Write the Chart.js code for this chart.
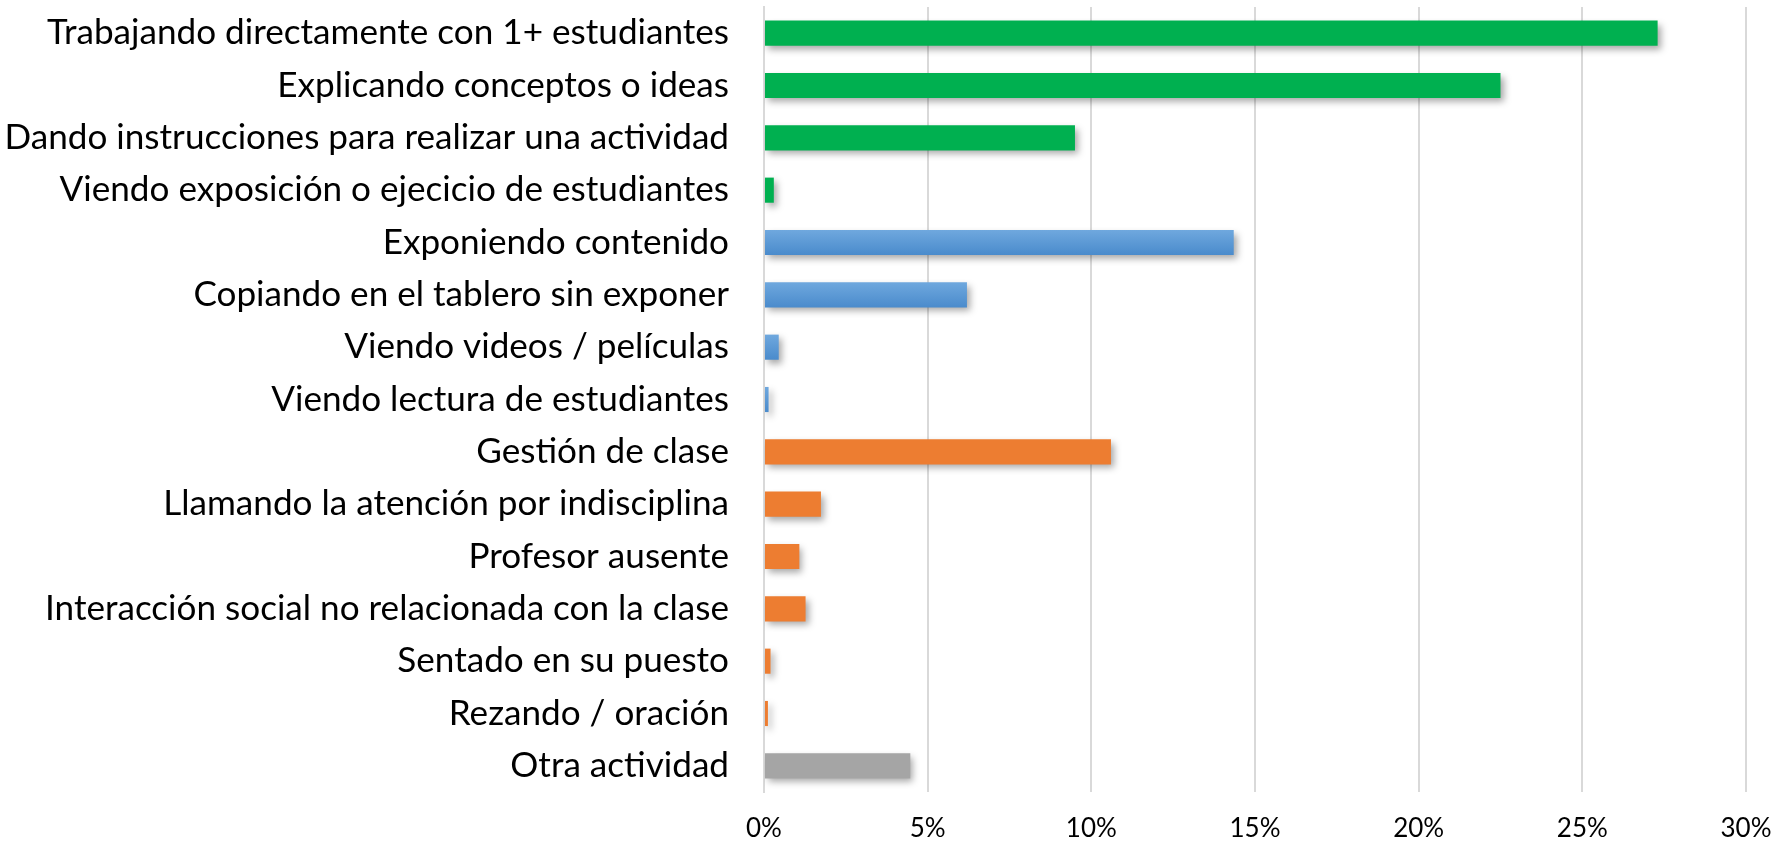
<!DOCTYPE html>
<html>
<head>
<meta charset="utf-8">
<script src="https://cdn.jsdelivr.net/npm/chart.js"></script>
<style>
  html, body { margin: 0; padding: 0; background: #ffffff; }
  #wrap { width: 1789px; height: 842px; }
</style>
</head>
<body>
<div id="wrap"><canvas id="activityChart" width="1789" height="842"></canvas></div>
<script>
// Activity categories (top to bottom)
const categories = [
    "Trabajando directamente con 1+ estudiantes",
    "Explicando conceptos o ideas",
    "Dando instrucciones para realizar una actividad",
    "Viendo exposición o ejecicio de estudiantes",
    "Exponiendo contenido",
    "Copiando en el tablero sin exponer",
    "Viendo videos / películas",
    "Viendo lectura de estudiantes",
    "Gestión de clase",
    "Llamando la atención por indisciplina",
    "Profesor ausente",
    "Interacción social no relacionada con la clase",
    "Sentado en su puesto",
    "Rezando / oración",
    "Otra actividad"
];

// Share of observed time (%)
const shares = [27.3, 22.5, 9.5, 0.3, 14.35, 6.2, 0.45, 0.14, 10.6, 1.74, 1.08, 1.27, 0.2, 0.12, 4.47];

// Group of each activity
const groups = ["a", "a", "a", "a", "b", "b", "b", "b", "c", "c", "c", "c", "c", "c", "d"];

// x axis ticks
const xTicks = [0, 5, 10, 15, 20, 25, 30];

const FONT = "Lato, 'Noto Sans', sans-serif";
const BAR_PCT = 0.48;

// size the fonts so the longest label has the same width as in the picture
function fitSize(text, targetWidth) {
    var c = document.createElement('canvas').getContext('2d');
    c.font = "100px " + FONT;
    return 100 * targetWidth / c.measureText(text).width;
}
var labelSize = fitSize(categories[0], 682);
var tickSize = fitSize("10%", 51);

var groupSolid = { a: "#00B050", c: "#ED7D31", d: "#A5A5A5" };

function barColor(context) {
    var g = groups[context.dataIndex];
    if (g !== "b") return groupSolid[g];
    var yScale = context.chart.scales.y;
    if (!yScale) return "#5B9BD5";
    var yc = yScale.getPixelForValue(context.dataIndex);
    var h = yScale.height / categories.length * BAR_PCT;
    if (!isFinite(yc) || !isFinite(h)) return "#5B9BD5";
    var grad = context.chart.ctx.createLinearGradient(0, yc - h / 2, 0, yc + h / 2);
    grad.addColorStop(0, "#6FA8DE");
    grad.addColorStop(1, "#4A8BCC");
    return grad;
}

// soft drop shadow under the bars
const barShadow = {
    id: 'barShadow',
    beforeDatasetsDraw: function(chart) {
        var ctx = chart.ctx;
        ctx.save();
        ctx.shadowColor = "rgba(0,0,0,0.35)";
        ctx.shadowBlur = 7;
        ctx.shadowOffsetX = 3;
        ctx.shadowOffsetY = 4;
    },
    afterDatasetsDraw: function(chart) {
        chart.ctx.restore();
    }
};

const ctx = document.getElementById("activityChart").getContext("2d");
const activityChart = new Chart(ctx, {
    type: "bar",
    data: {
        labels: categories,
        datasets: [{
            data: shares,
            backgroundColor: barColor,
            borderWidth: 0,
            barPercentage: BAR_PCT,
            categoryPercentage: 1.0
        }]
    },
    options: {
        indexAxis: "y",
        responsive: false,
        animation: false,
        events: [],
        layout: { padding: { top: 7, right: 43, left: 0, bottom: 0 } },
        plugins: {
            legend: { display: false },
            tooltip: { enabled: false }
        },
        scales: {
            x: {
                min: 0,
                max: 30,
                afterBuildTicks: function(scale) {
                    scale.ticks = xTicks.map(function(v) { return { value: v }; });
                },
                afterFit: function(scale) {
                    scale.height = 50;
                    scale.paddingLeft = 0;
                    scale.paddingRight = 0;
                },
                grid: { color: "#D9D9D9", lineWidth: 2, drawTicks: false },
                border: { display: false },
                ticks: {
                    padding: 21,
                    color: "#000000",
                    font: { family: FONT, size: tickSize },
                    callback: function(v) { return v + "%"; }
                }
            },
            y: {
                afterFit: function(scale) {
                    scale.width = 764;
                    scale.paddingTop = 0;
                    scale.paddingBottom = 0;
                },
                grid: { display: false, drawTicks: false },
                border: { display: true, color: "#D9D9D9", width: 2 },
                ticks: {
                    padding: 35,
                    color: "#000000",
                    autoSkip: false,
                    font: { family: FONT, size: labelSize }
                }
            }
        }
    },
    plugins: [barShadow]
});
</script>
</body>
</html>
